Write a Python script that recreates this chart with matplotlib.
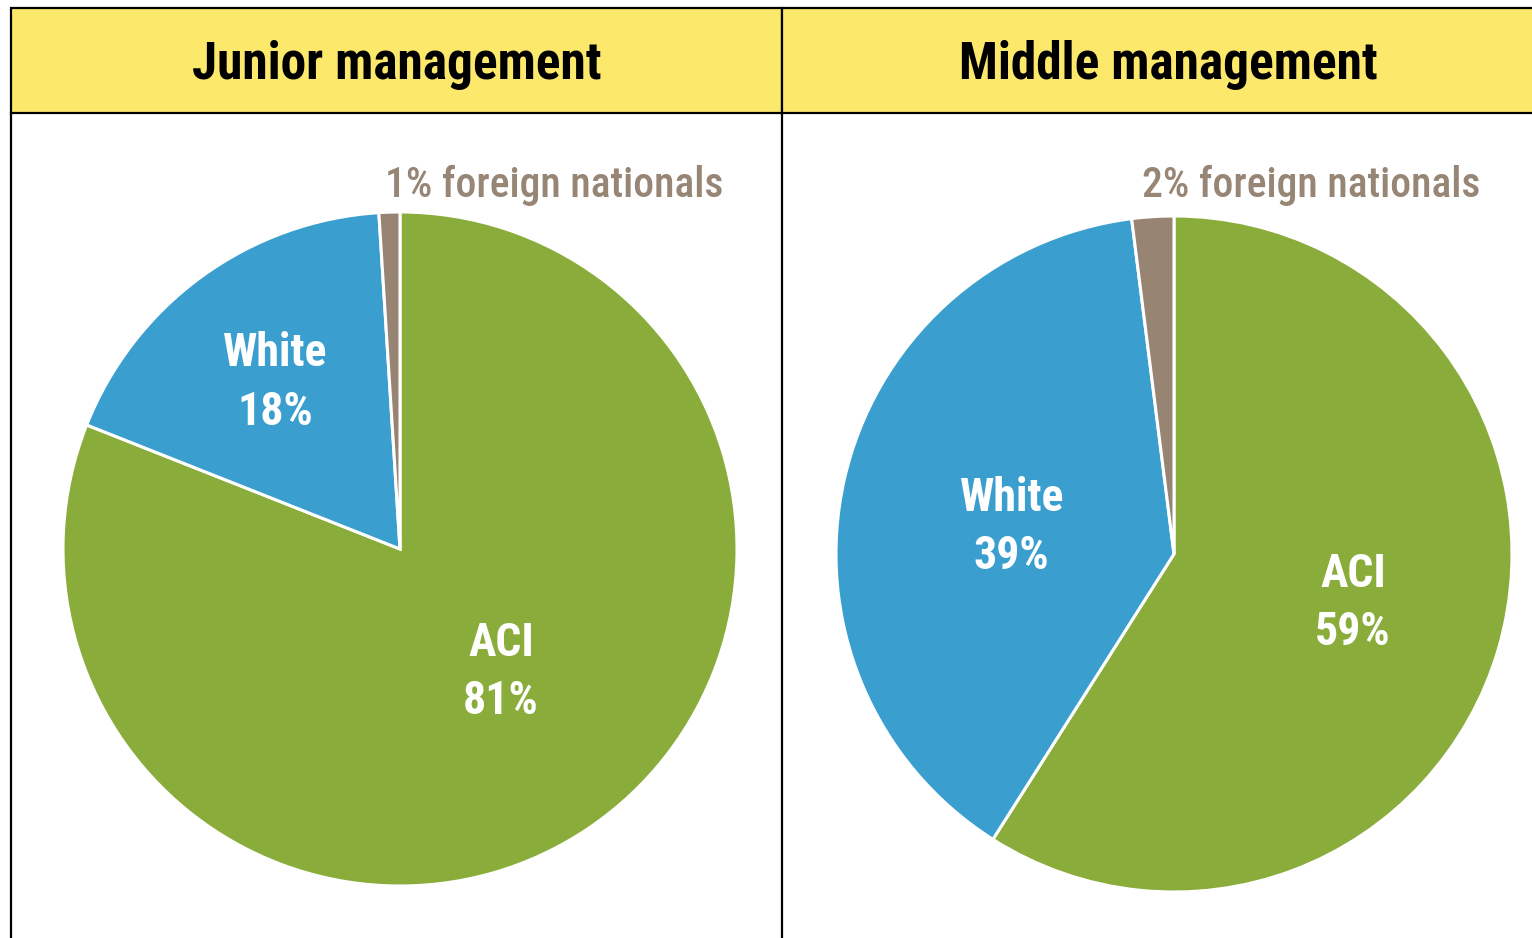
import matplotlib.pyplot as plt
from matplotlib.patches import Rectangle

# data
groups = ['Junior management', 'Middle management']
categories = ['ACI', 'White', 'foreign nationals']
junior = [81, 18, 1]
middle = [59, 39, 2]

colors = ['#8aac3b', '#3a9fce', '#978473']
font = ['Roboto Condensed', 'Archivo Narrow', 'Asap Condensed', 'DejaVu Sans']

W, H = 1532, 938
fig = plt.figure(figsize=(W / 100, H / 100), dpi=100)

# background axes in pixel units for the header bars and frame lines
bg = fig.add_axes([0, 0, 1, 1])
bg.set_xlim(0, W)
bg.set_ylim(H, 0)
bg.axis('off')

panels = [(11, 782), (782, W + 5)]
title_x = [397, 1168]
for (x0, x1), tx, title in zip(panels, title_x, groups):
    bg.add_patch(Rectangle((x0, 8), x1 - x0, 105, facecolor='#fce86a',
                           edgecolor='black', linewidth=1.6))
    bg.text(tx, 65, title, ha='center', va='center',
            fontsize=37, fontweight='bold', family=font)
bg.plot([11, 11], [113, H + 5], color='black', linewidth=1.6)
bg.plot([782, 782], [113, H + 5], color='black', linewidth=1.6)

# pie placement (center x, center y, radius) in pixels
pies = [(400, 549, 337), (1174, 554, 338)]
# label positions (relative to radius) for ACI, White and the small slice
label_pos = [
    [(0.30, -0.365), (-0.37, 0.495), (-0.045, 1.08)],
    [(0.53, -0.145), (-0.48, 0.08), (-0.095, 1.09)],
]

for values, (cx, cy, r), lpos in zip([junior, middle], pies, label_pos):
    ax = fig.add_axes([(cx - r) / W, 1 - (cy + r) / H, 2 * r / W, 2 * r / H])
    ax.pie(values, colors=colors, startangle=90, counterclock=False,
           wedgeprops=dict(edgecolor='white', linewidth=2.2))
    ax.set_xlim(-1, 1)
    ax.set_ylim(-1, 1)
    ax.set_aspect('equal')
    ax.axis('off')
    for i, (cat, v) in enumerate(zip(categories, values)):
        x, y = lpos[i]
        if i < 2:
            ax.text(x, y, f'{cat}\n{v}%', ha='center', va='center',
                    color='white', fontsize=33, fontweight='bold',
                    family=font, linespacing=1.42)
        else:
            ax.text(x, y, f'{v}% {cat}', ha='left', va='center',
                    color='#978675', fontsize=30, fontweight='medium',
                    family=font, clip_on=False)

fig.savefig('out.png', dpi=100)
